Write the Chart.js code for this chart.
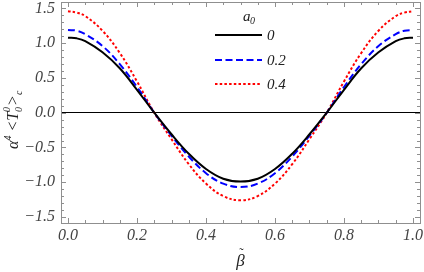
<!DOCTYPE html>
<html>
<head>
<meta charset="utf-8">
<script src="https://cdn.jsdelivr.net/npm/chart.js@4/dist/chart.umd.min.js"></script>
<style>
  html, body { margin: 0; padding: 0; background: #fff; }
  #wrap { width: 424px; height: 272px; }
</style>
</head>
<body>
<div id="wrap"><canvas id="c" width="424" height="272"></canvas></div>
<script>
// beta-tilde samples and the three a0 curves
const betas = [0, 0.025, 0.05, 0.1, 0.15, 0.2, 0.25, 0.3, 0.35, 0.4, 0.45, 0.5,
               0.55, 0.6, 0.65, 0.7, 0.75, 0.8, 0.85, 0.9, 0.95, 0.975, 1.0];
const curveA0 = [1.08, 1.07, 1.03, 0.87, 0.64, 0.33, 0.00, -0.31, -0.59, -0.81, -0.95, -0.99,
                 -0.95, -0.81, -0.59, -0.31, 0.00, 0.33, 0.64, 0.87, 1.03, 1.07, 1.08];
const curveA02 = [1.19, 1.18, 1.13, 0.96, 0.70, 0.37, 0.00, -0.33, -0.63, -0.87, -1.02, -1.07,
                  -1.02, -0.87, -0.63, -0.33, 0.00, 0.37, 0.70, 0.96, 1.13, 1.18, 1.19];
const curveA04 = [1.46, 1.44, 1.39, 1.18, 0.86, 0.45, 0.00, -0.38, -0.74, -1.02, -1.20, -1.26,
                  -1.20, -1.02, -0.74, -0.38, 0.00, 0.45, 0.86, 1.18, 1.39, 1.44, 1.46];
const legendLabels = ['0', '0.2', '0.4'];
const xTicks = [0, 0.2, 0.4, 0.6, 0.8, 1.0];
const yTicks = [-1.5, -1.0, -0.5, 0.0, 0.5, 1.0, 1.5];

const SERIF = '"Liberation Serif", "DejaVu Serif", serif';
const FRAME = '#8f8f8f';

const fmt = v => (v < 0 ? '\u2212' : '') + Math.abs(v).toFixed(1);

// frame with inward ticks, legend, axis titles (Mathematica-like)
const decor = {
  id: 'decor',
  afterDraw(chart) {
    const ctx = chart.ctx, a = chart.chartArea;
    const xs = chart.scales.x, ys = chart.scales.y;
    ctx.save();
    ctx.strokeStyle = FRAME;
    ctx.lineWidth = 1;
    ctx.strokeRect(Math.round(a.left) + 0.5, Math.round(a.top) + 0.5,
                   Math.round(a.right - a.left), Math.round(a.bottom - a.top));
    ctx.beginPath();
    for (let i = 0; i <= 20; i++) {
      const v = i * 0.05, len = i % 4 === 0 ? 5 : 3;
      const px = Math.round(xs.getPixelForValue(v)) + 0.5;
      ctx.moveTo(px, a.bottom); ctx.lineTo(px, a.bottom - len);
      ctx.moveTo(px, a.top); ctx.lineTo(px, a.top + len);
    }
    for (let i = -15; i <= 15; i++) {
      const v = i * 0.1, len = i % 5 === 0 ? 5 : 3;
      const py = Math.round(ys.getPixelForValue(v)) + 0.5;
      ctx.moveTo(a.left, py); ctx.lineTo(a.left + len, py);
      ctx.moveTo(a.right, py); ctx.lineTo(a.right - len, py);
    }
    ctx.stroke();

    // legend
    ctx.fillStyle = '#222';
    ctx.textBaseline = 'alphabetic';
    ctx.font = 'italic 15px ' + SERIF;
    ctx.fillText('a', 243, 21);
    ctx.font = 'italic 10px ' + SERIF;
    ctx.fillText('0', 250, 24);
    const rows = [35, 60, 84];
    chart.data.datasets.forEach((ds, i) => {
      ctx.save();
      ctx.strokeStyle = ds.borderColor;
      ctx.lineWidth = ds.borderWidth;
      ctx.setLineDash(ds.borderDash || []);
      ctx.beginPath();
      ctx.moveTo(215, rows[i]); ctx.lineTo(262, rows[i]);
      ctx.stroke();
      ctx.restore();
      ctx.font = 'italic 15px ' + SERIF;
      ctx.textBaseline = 'middle';
      ctx.fillText(legendLabels[i], 267, rows[i] + 1);
    });

    // x title: beta with tilde
    const cx = (a.left + a.right) / 2;
    ctx.textBaseline = 'alphabetic';
    ctx.textAlign = 'center';
    ctx.font = 'italic 17px ' + SERIF;
    ctx.fillText('\u03b2', cx, 266);
    ctx.font = '13px ' + SERIF;
    ctx.fillText('\u02dc', cx + 1, 257);
    ctx.textAlign = 'left';

    // rotated y title: alpha^4 <T_0^0>_c
    ctx.translate(18, 149);
    ctx.rotate(-Math.PI / 2);
    let x = 0;
    const put = (t, size, dy, italic) => {
      ctx.font = (italic ? 'italic ' : '') + size + 'px ' + SERIF;
      ctx.fillText(t, x, dy);
      return ctx.measureText(t).width;
    };
    x += put('\u03b1', 16, 0, true);
    x += put('4', 10, -7, true);
    x += 4;
    x += put('<', 16, 0, true);
    x += put('T', 16, 0, true);
    const w0 = put('0', 10, 4, true);
    put('0', 10, -8, true);
    x += w0 + 1;
    x += put('>', 16, 0, true);
    x += put('c', 10, 4, true);
    ctx.restore();
  }
};

const mk = (data, color, width, dash) => ({
  data: betas.map((b, i) => ({ x: b, y: data[i] })),
  borderColor: color, borderWidth: width, borderDash: dash,
  pointRadius: 0, fill: false, tension: 0.4
});

new Chart(document.getElementById('c').getContext('2d'), {
  type: 'line',
  data: {
    datasets: [
      mk(curveA0, '#000000', 2, []),
      mk(curveA02, '#0000ff', 2, [7, 3.5]),
      mk(curveA04, '#ff0000', 2, [2.5, 2.2])
    ]
  },
  options: {
    responsive: false, animation: false,
    layout: { padding: { top: 2, right: 4, left: 0, bottom: 0 } },
    plugins: { legend: { display: false }, tooltip: { enabled: false } },
    scales: {
      x: {
        type: 'linear', min: -0.0203, max: 1.0203,
        afterBuildTicks: s => { s.ticks = xTicks.map(v => ({ value: v })); },
        afterFit: s => { s.height = 49; s.paddingLeft = 0; s.paddingRight = 0; },
        grid: { display: false, drawTicks: false },
        border: { display: false },
        ticks: { padding: 3, color: '#444', font: { family: SERIF, style: 'italic', size: 16 },
                 callback: v => fmt(v), maxRotation: 0 }
      },
      y: {
        type: 'linear', min: -1.587, max: 1.593,
        afterBuildTicks: s => { s.ticks = yTicks.map(v => ({ value: v })); },
        afterFit: s => { s.width = 61; s.paddingTop = 0; s.paddingBottom = 0; },
        grid: { drawTicks: false, lineWidth: 1,
                color: c => (c.tick && c.tick.value === 0 ? '#000' : 'rgba(0,0,0,0)') },
        border: { display: false },
        ticks: { padding: 6, color: '#444', font: { family: SERIF, style: 'italic', size: 16 },
                 callback: v => fmt(v) }
      }
    }
  },
  plugins: [decor]
});
</script>
</body>
</html>
